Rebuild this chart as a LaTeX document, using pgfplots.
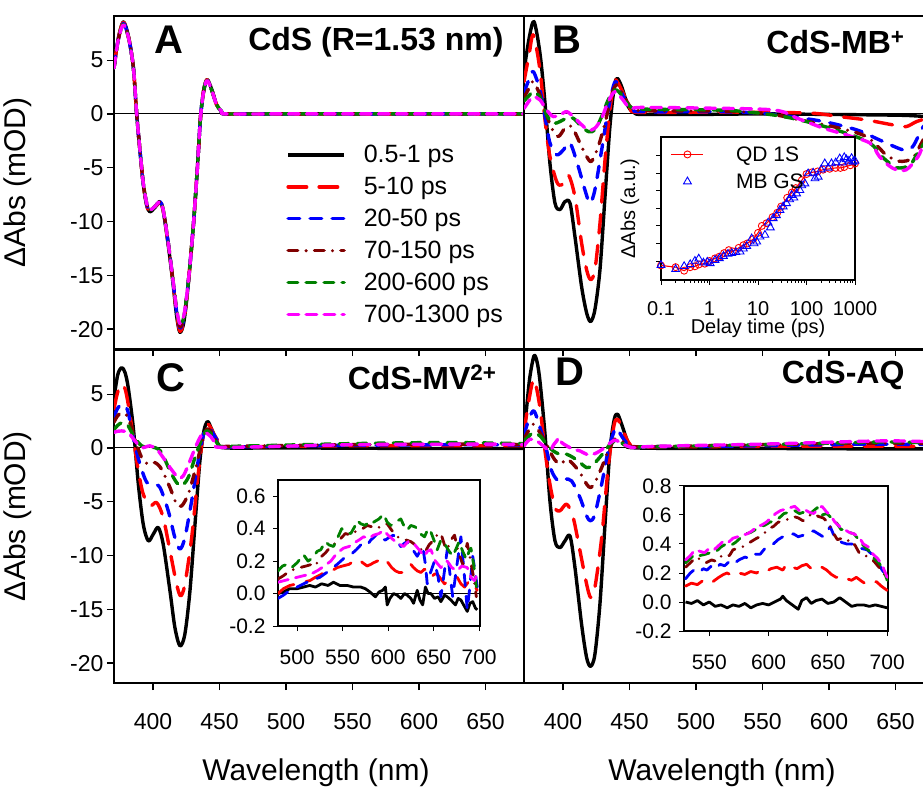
\documentclass[border=0pt]{standalone}
\usepackage{fontspec}
\setmainfont{Liberation Sans}
\usepackage{pgfplots}
\pgfplotsset{compat=1.18}
\definecolor{brn}{RGB}{128,0,0}
\definecolor{grn}{RGB}{0,128,0}
\definecolor{mag}{RGB}{255,0,255}
\definecolor{rd}{RGB}{255,0,0}
\definecolor{bl}{RGB}{0,0,255}
\newcommand{\fs}[1]{\fontsize{#1}{#1}\selectfont}

\pgfplotsset{
  c0/.style={black, line width=3.4pt, solid, line join=round},
  c1/.style={rd, line width=3.4pt, line cap=round, line join=round, dash pattern=on 18.6pt off 12.4pt},
  c2/.style={bl, line width=3.4pt, line cap=round, line join=round, dash pattern=on 11.6pt off 10.4pt},
  c3/.style={brn, line width=3.4pt, line cap=round, line join=round, dash pattern=on 9.6pt off 8.4pt on 0pt off 8.4pt},
  c4/.style={grn, line width=3.4pt, line cap=round, line join=round, dash pattern=on 9.6pt off 8.4pt},
  c5/.style={mag, line width=3.4pt, line cap=round, line join=round, dash pattern=on 10.6pt off 7.4pt},
  mainax/.style={scale only axis, width=410pt, height=333pt,
    xmin=370.7, xmax=679, ymin=-21.85, ymax=9.1,
    axis line style={line width=1.6pt}, major tick length=7pt,
    every tick/.style={black, line width=1.2pt}, tick align=outside,
    xtick={400,450,500,550,600,650}, xticklabels={}, xtick pos=bottom,
    ytick pos=left, ytick=\empty, tick label style={font=\fs{23}}},
  leftax/.style={ytick={-20,-15,-10,-5,0,5}, yticklabels={-20,-15,-10,-5,0,5}},
  botax/.style={xticklabels={400,450,500,550,600,650}, xticklabel style={yshift=-20pt}},
  inax/.style={scale only axis, axis background/.style={fill=white},
    axis line style={line width=1.1pt}, major tick length=5pt,
    every tick/.style={black, line width=1pt}, tick align=outside,
    xtick pos=bottom, ytick pos=left, tick label style={font=\fs{21}}},
}

\begin{document}
\begin{tikzpicture}[x=1pt,y=1pt]

% ---------- A ----------
\begin{axis}[mainax, leftax, at={(114pt,439pt)}, anchor=south west,
  legend style={at={(0.42,0.618)}, anchor=north west, draw=none, fill=none,
    font=\fs{25}, inner sep=0pt, row sep=9pt,
    /tikz/every odd column/.append style={column sep=16pt}},
  legend cell align=left,
  legend image code/.code={\draw[#1] (0pt,0pt) -- (56pt,0pt);}]
\addplot[black, line width=1pt, forget plot] coordinates {(370.7,0)(679,0)};
\addplot[c0, smooth] coordinates {(370.7,4.3)(373.9,7.0)(377.7,8.55)(381.4,7.3)(385.2,4.4)(387.7,0.06)(390.2,-3.4)(392.7,-6.5)(395.3,-8.5)(397.7,-9.1)(401.5,-8.7)(405.3,-8.2)(407.7,-9.0)(411.5,-12.2)(415.3,-16.0)(417.8,-18.8)(420.3,-20.3)(423.3,-19.3)(426.5,-15.9)(430.3,-10.5)(433.3,-5.2)(435.8,-0.25)(438.3,2.3)(440.8,3.2)(444.1,2.3)(447.9,0.84)(451.7,0.22)(455.4,0)(500,0)(600,0)(679,0)};
\addlegendentry{0.5-1 ps}
\addplot[c1, smooth] coordinates {(370.7,4.3)(373.9,7.0)(377.7,8.5)(381.4,7.3)(385.2,4.4)(387.7,0.06)(390.2,-3.4)(392.7,-6.5)(395.3,-8.5)(397.7,-9.1)(401.5,-8.7)(405.3,-8.2)(407.7,-9.0)(411.5,-12.1)(415.3,-15.9)(417.8,-18.6)(420.3,-20.2)(423.3,-19.2)(426.5,-15.8)(430.3,-10.5)(433.3,-5.2)(435.8,-0.25)(438.3,2.3)(440.8,3.2)(444.1,2.3)(447.9,0.84)(451.7,0.22)(455.4,0)(500,0)(600,0)(679,0)};
\addlegendentry{5-10 ps}
\addplot[c2, smooth] coordinates {(370.7,4.3)(373.9,6.9)(377.7,8.4)(381.4,7.2)(385.2,4.4)(387.7,0.06)(390.2,-3.4)(392.7,-6.5)(395.3,-8.4)(397.7,-9.0)(401.5,-8.6)(405.3,-8.15)(407.7,-8.95)(411.5,-12.0)(415.3,-15.8)(417.8,-18.4)(420.3,-19.9)(423.3,-19.0)(426.5,-15.7)(430.3,-10.5)(433.3,-5.2)(435.8,-0.25)(438.3,2.25)(440.8,3.1)(444.1,2.25)(447.9,0.84)(451.7,0.22)(455.4,0)(500,0)(600,0)(679,0)};
\addlegendentry{20-50 ps}
\addplot[c3, smooth] coordinates {(370.7,4.3)(373.9,6.9)(377.7,8.35)(381.4,7.2)(385.2,4.4)(387.7,0.06)(390.2,-3.35)(392.7,-6.45)(395.3,-8.35)(397.7,-8.95)(401.5,-8.6)(405.3,-8.15)(407.7,-8.9)(411.5,-12.0)(415.3,-15.7)(417.8,-18.3)(420.3,-19.8)(423.3,-18.9)(426.5,-15.7)(430.3,-10.5)(433.3,-5.2)(435.8,-0.25)(438.3,2.23)(440.8,3.1)(444.1,2.23)(447.9,0.84)(451.7,0.22)(455.4,0)(500,0)(600,0)(679,0)};
\addlegendentry{70-150 ps}
\addplot[c4, smooth] coordinates {(370.7,4.25)(373.9,6.9)(377.7,8.3)(381.4,7.2)(385.2,4.4)(387.7,0.06)(390.2,-3.35)(392.7,-6.44)(395.3,-8.3)(397.7,-8.92)(401.5,-8.6)(405.3,-8.15)(407.7,-8.92)(411.5,-12.0)(415.3,-15.7)(417.8,-18.2)(420.3,-19.7)(423.3,-18.8)(426.5,-15.7)(430.3,-10.5)(433.3,-5.2)(435.8,-0.25)(438.3,2.23)(440.8,3.1)(444.1,2.23)(447.9,0.84)(451.7,0.22)(455.4,0)(500,0)(600,0)(679,0)};
\addlegendentry{200-600 ps}
\addplot[c5, smooth] coordinates {(370.7,4.25)(373.9,6.88)(377.7,8.27)(381.4,7.19)(385.2,4.4)(387.7,0.06)(390.2,-3.35)(392.7,-6.44)(395.3,-8.3)(397.7,-8.92)(401.5,-8.6)(405.3,-8.15)(407.7,-8.92)(411.5,-12.0)(415.3,-15.7)(417.8,-18.2)(420.3,-19.5)(423.3,-18.7)(426.5,-15.7)(430.3,-10.5)(433.3,-5.2)(435.8,-0.25)(438.3,2.23)(440.8,3.1)(444.1,2.23)(447.9,0.84)(451.7,0.22)(455.4,0)(500,0)(600,0)(679,0)};
\addlegendentry{700-1300 ps}
\end{axis}

% ---------- B ----------
\begin{axis}[mainax, at={(524pt,439pt)}, anchor=south west]
\addplot[black, line width=1pt] coordinates {(370.7,0)(679,0)};
\addplot[c0, smooth] coordinates {(370.7,4.0)(374.5,7.0)(378.2,8.58)(382.7,5.64)(386.5,1.0)(390.2,-4.6)(394,-8.3)(397.7,-8.9)(401.5,-8.15)(405.3,-8.3)(409,-11.4)(414,-16.05)(417.8,-18.5)(420.8,-19.3)(424,-18.2)(427.8,-14.5)(431.6,-7.7)(435.3,-1.18)(438.6,2.54)(440.8,3.3)(444.1,2.54)(449.1,0.68)(454.1,0.06)(460,-0.05)(500,-0.05)(550,0)(600,-0.05)(640,-0.1)(660,-0.15)(679,-0.3)};
\addplot[c1, smooth] coordinates {(370.7,3.0)(374.5,5.5)(377.7,7.34)(382.7,4.1)(386.5,-0.56)(390.2,-3.97)(395.3,-6.3)(399,-6.6)(404,-5.67)(409,-7.7)(414,-12.0)(417.8,-14.5)(420.8,-15.4)(424,-14.5)(427.8,-10.2)(431.6,-4.3)(435.3,0.37)(438.6,3.0)(440.8,3.0)(445.3,1.92)(450.4,0.53)(456,0.15)(500,0.15)(550,0.15)(588,0.06)(608,-0.25)(628,-0.56)(648,-1.02)(658,-1.18)(666,-0.71)(679,-0.2)};
\addplot[c2, smooth] coordinates {(370.7,2.0)(374.5,3.2)(377.7,3.93)(382.7,2.2)(386.5,-0.25)(390.2,-2.7)(395.3,-3.8)(400.3,-3.35)(405.3,-2.7)(411.5,-4.9)(416.5,-7.06)(420.3,-8.3)(424,-7.06)(429.1,-3.35)(434,0.37)(438.6,2.85)(441.6,2.7)(446.6,1.3)(452.9,0.37)(460,0.2)(520,0.2)(550,0.05)(571,-0.25)(596,-0.71)(621,-1.49)(638,-2.42)(656,-3.35)(663,-3.04)(671,-1.18)(679,-0.5)};
\addplot[c3, smooth] coordinates {(370.7,1.5)(374.5,2.4)(377.7,3.0)(382.7,1.77)(387.2,0.06)(391.5,-1.33)(396.5,-2.1)(401.5,-1.33)(406.5,-1.18)(412.8,-2.72)(417.8,-3.97)(421.5,-4.4)(426.5,-3.04)(431.6,-0.87)(436.6,1.77)(440.4,2.7)(445.3,1.77)(451.6,0.53)(460,0.3)(520,0.25)(555,0.0)(578,-0.56)(603,-1.18)(628,-2.1)(643,-3.8)(653,-4.4)(663,-4.1)(671,-2.4)(679,-1.0)};
\addplot[c4, smooth] coordinates {(370.7,1.2)(374.5,1.7)(377.7,2.07)(382.7,1.55)(387.7,-0.09)(392.7,-0.87)(397.7,-0.71)(402.8,-0.4)(407.7,-0.4)(412.8,-1.02)(419,-1.64)(424,-1.49)(429.1,-0.25)(434,1.3)(439.1,2.23)(444.1,1.77)(450.4,0.68)(460,0.45)(520,0.35)(545,0.1)(566,-0.25)(588,-0.87)(613,-1.8)(631,-2.72)(641,-4.1)(651,-5.0)(661,-4.74)(668,-3.35)(679,-1.5)};
\addplot[c5, smooth] coordinates {(370.7,0.5)(374.5,1.2)(377.7,1.6)(382.7,1.3)(387.7,0.37)(392.7,-0.25)(397.7,-0.09)(402.8,0.21)(407.7,-0.25)(412.8,-0.87)(419,-1.49)(424,-1.33)(429.1,-0.4)(434,1.14)(439.1,2.07)(444.1,1.46)(450.4,0.53)(458,0.6)(500,0.55)(558,0.37)(576,-0.4)(596,-1.33)(613,-1.95)(631,-2.72)(638,-3.97)(648,-5.05)(658,-5.2)(667,-3.97)(671,-2.9)(679,-1.5)};
\end{axis}

% ---------- C ----------
\begin{axis}[mainax, leftax, botax, at={(114pt,105pt)}, anchor=south west]
\addplot[black, line width=1pt] coordinates {(370.7,0)(679,0)};
\addplot[c0, smooth] coordinates {(370.7,4.6)(373.5,6.8)(376.5,7.46)(379,7.0)(381.4,5.6)(385.2,1.9)(389,-3.37)(392.7,-7.1)(396.5,-8.64)(400.3,-8.0)(404,-7.4)(407.7,-8.95)(412.8,-13.3)(416.5,-16.7)(420.3,-18.4)(424,-17.3)(427.8,-13.3)(431.6,-7.1)(435.3,-1.2)(438.3,1.58)(441.1,2.45)(444.1,1.74)(449.1,0.34)(455,0)(500,0)(600,-0.05)(679,-0.05)};
\addplot[c1, smooth] coordinates {(370.7,3.6)(373.5,5.2)(376.5,5.92)(379,5.5)(381.4,4.06)(385.2,0.96)(389,-2.14)(392.7,-4.3)(397.7,-5.4)(402.8,-5.08)(407.7,-6.48)(412.8,-9.57)(417.8,-12.67)(420.8,-13.75)(424,-12.67)(429.1,-8.34)(434,-2.44)(438.3,1.58)(441.6,2.2)(446.6,1.12)(451.7,0.19)(460,0.1)(550,0.2)(650,0.2)(679,0.2)};
\addplot[c2, smooth] coordinates {(370.7,2.9)(373.5,3.7)(376.5,4.06)(379,3.9)(381.4,3.28)(385.7,0.65)(390.2,-1.5)(395.3,-3.2)(400.3,-3.37)(405.3,-3.69)(411.5,-5.85)(416.5,-8.34)(420.3,-9.4)(424,-8.34)(429.1,-4.93)(434,-1.2)(438.8,1.58)(442.9,1.74)(447.9,0.81)(452.9,0.19)(460,0.1)(550,0.25)(650,0.3)(679,0.25)};
\addplot[c3, smooth] coordinates {(370.7,2.4)(373.5,3.0)(376.5,3.28)(379,3.1)(381.4,2.82)(386.5,0.81)(391.5,-0.9)(396.5,-1.52)(401.5,-1.37)(406.5,-1.98)(412.8,-3.69)(417.8,-5.23)(421.6,-5.39)(426.5,-4.3)(431.6,-2.14)(436.6,0.34)(440.4,1.74)(445.3,1.27)(450,0.19)(460,0.15)(550,0.3)(650,0.35)(679,0.3)};
\addplot[c4, smooth] coordinates {(370.7,1.7)(373.5,2.1)(376.5,2.35)(379,2.3)(381.4,2.04)(386.5,0.9)(391.5,0.19)(396.5,0.03)(401.5,0.03)(406.5,-0.43)(412.8,-2.14)(417.8,-3.22)(421.6,-3.53)(426.5,-2.76)(431.6,-0.9)(436.6,0.81)(440.4,1.58)(445.3,1.12)(450,0.19)(460,0.15)(550,0.4)(620,0.5)(679,0.4)};
\addplot[c5, smooth] coordinates {(370.7,1.45)(373.5,1.55)(376.5,1.58)(381.4,1.42)(386.5,0.65)(391.5,0.03)(397.7,0.19)(402.8,-0.12)(407.7,-0.9)(412.8,-1.83)(419,-2.76)(422.8,-2.6)(427.8,-1.21)(432.9,0.34)(437.9,1.42)(442.9,1.12)(447.9,0.34)(455,0.05)(550,0.3)(650,0.35)(679,0.3)};
\end{axis}

% ---------- D ----------
\begin{axis}[mainax, botax, at={(524pt,105pt)}, anchor=south west]
\addplot[black, line width=1pt] coordinates {(370.7,0)(679,0)};
\addplot[c0, smooth] coordinates {(370.7,1.2)(372.5,3.5)(375,6.5)(378.2,8.55)(380.5,8.0)(382.7,6.2)(386.5,1.27)(390.2,-4.93)(394,-8.64)(397.7,-9.27)(401.5,-8.64)(405.3,-8.18)(409,-11.1)(414,-16.4)(417.8,-19.5)(420.8,-20.3)(424,-19.2)(427.8,-14.5)(431.6,-7.1)(435.3,-0.28)(438.6,2.67)(441.1,3.13)(444.1,2.2)(449.1,0.5)(455,0)(550,-0.05)(650,-0.1)(679,-0.1)};
\addplot[c1, smooth] coordinates {(370.7,1.5)(374.5,4.5)(378.2,6.38)(382.7,3.75)(386.5,-0.28)(390.2,-3.37)(394,-5.55)(397.7,-5.85)(402.8,-5.23)(407.7,-6.48)(412.8,-9.57)(417.8,-12.67)(420.8,-13.9)(424,-12.98)(429.1,-8.34)(434,-1.83)(438.3,2.04)(441.1,2.67)(445.3,1.58)(450.4,0.34)(460,0.1)(550,0.15)(650,0.15)(679,0.1)};
\addplot[c2, smooth] coordinates {(370.7,1.2)(374.5,2.7)(378.2,3.44)(382.7,1.89)(387.2,0.03)(391.5,-2.14)(396.5,-3.07)(401.5,-2.9)(406.5,-3.07)(412.8,-4.62)(417.8,-6.32)(420.8,-6.78)(424,-6.16)(429.1,-3.37)(434,-0.28)(439.1,1.74)(441.6,1.58)(446.6,0.65)(452,0.06)(460,0.1)(550,0.2)(630,0.35)(679,0.3)};
\addplot[c3, smooth] coordinates {(370.7,0.8)(374.5,1.7)(377.7,2.2)(382.7,1.42)(387.7,0.34)(392.7,-0.9)(397.7,-1.52)(402.8,-1.05)(407.7,-1.52)(412.8,-2.3)(417.8,-3.37)(420.8,-3.69)(424,-3.22)(429.1,-1.83)(434,-0.28)(439.1,0.81)(444.1,0.65)(450.4,0.19)(460,0.1)(550,0.3)(630,0.45)(679,0.4)};
\addplot[c4, smooth] coordinates {(370.7,0.65)(374.5,1.1)(377.7,1.42)(382.7,1.12)(387.7,0.34)(392.7,-0.28)(397.7,-0.59)(402.8,-0.59)(407.7,-0.9)(412.8,-1.37)(417.8,-1.83)(421.6,-1.67)(426.5,-1.05)(431.6,-0.28)(436.6,0.5)(441.6,0.65)(447.9,0.19)(460,0.1)(550,0.3)(640,0.55)(679,0.45)};
\addplot[c5, smooth] coordinates {(370.7,0.19)(375.2,0.81)(380.2,0.65)(385.2,0.19)(390.2,-0.28)(393,0.3)(395.3,0.65)(397,0.96)(399,0.5)(402.8,0.19)(407.7,-0.12)(412.8,-0.28)(417.8,-0.59)(422.8,-0.59)(427.8,-0.28)(432.9,0.19)(439.1,0.72)(445.3,0.34)(452.9,0.03)(470,0.15)(550,0.35)(640,0.65)(679,0.55)};
\end{axis}

% ---------- inset B ----------
\begin{axis}[inax, at={(661pt,508pt)}, anchor=south west, width=194pt, height=143pt,
  xmode=log, xmin=0.1, xmax=1000, ymin=-1.08, ymax=7.06,
  xtick={0.1,1,10,100,1000}, xticklabels={0.1,1,10,100,1000},
  ytick={0,1,2,3,4,5,6}, yticklabels={},
  tick label style={font=\fs{20}}, xticklabel style={yshift=-13pt, text depth=0pt},
  xlabel={Delay time (ps)}, ylabel={ΔAbs (a.u.)},
  label style={font=\fs{20}},
  xlabel style={at={(axis description cs:0.5,0)}, anchor=north, yshift=-38pt, inner sep=1pt},
  ylabel style={at={(axis description cs:-0.16,0.5)}, anchor=center},
  legend style={at={(0.05,0.95)}, anchor=north west, draw=none, fill=none,
    font=\fs{21}, inner sep=0pt, row sep=7pt,
    /tikz/every odd column/.append style={column sep=30pt}},
  legend cell align=left,
  legend image code/.code={\draw[mark repeat=2,mark phase=2,#1] plot coordinates {(0pt,0pt)(16pt,0pt)(32pt,0pt)};}]
\addplot[rd, line width=1.1pt, mark=o, mark size=3.5pt, mark options={solid, line width=0.9pt}] coordinates {(0.1,-0.25)(0.2,-0.35)(0.3,-0.55)(0.4,-0.35)(0.5,-0.3)(0.6,-0.2)(0.8,-0.15)(1,0.0)(1.3,0.15)(1.6,0.25)(2,0.45)(2.5,0.62)(3,0.55)(4,0.75)(5,0.9)(6,1.0)(8,1.25)(10,1.6)(12,2.0)(15,2.15)(20,2.5)(25,2.75)(30,3.1)(40,3.6)(50,3.9)(60,4.15)(80,4.6)(100,4.95)(130,5.05)(170,5.1)(220,5.2)(300,5.25)(400,5.3)(500,5.3)(600,5.35)(800,5.45)(1000,5.55)};
\addlegendentry{QD 1S}
\addplot[bl, only marks, mark=triangle, mark size=4.5pt, mark options={line width=0.9pt}] coordinates {(0.1,-0.23)(0.2,-0.47)(0.3,-0.3)(0.4,-0.19)(0.5,0.0)(0.6,0.13)(0.75,-0.1)(0.9,-0.05)(1.03,-0.13)(1.3,0.05)(1.6,0.15)(1.94,0.28)(2.4,0.4)(2.88,0.44)(3.5,0.5)(4.27,0.53)(5,0.7)(5.85,0.85)(7.4,1.28)(8.3,1.0)(9.4,1.1)(11,1.38)(13.9,1.48)(16.2,2.18)(18,1.9)(20.6,2.43)(24,2.6)(28.3,2.9)(33,3.1)(38.8,3.28)(45,3.5)(49.2,3.75)(55,3.6)(62.4,3.84)(73,4.03)(80,4.3)(92.5,4.41)(108,4.98)(137,5.02)(150,4.7)(174,4.79)(200,5.2)(238,5.55)(280,5.3)(327,5.55)(400,5.6)(484,5.83)(550,5.6)(600,5.9)(664,5.78)(750,5.7)(850,5.85)(912,5.64)(1000,5.7)};
\addlegendentry{MB GS}
\end{axis}

% ---------- inset C ----------
\begin{axis}[inax, at={(278pt,162pt)}, anchor=south west, width=202pt, height=146pt,
  xmin=479, xmax=701, ymin=-0.2, ymax=0.7,
  xtick={500,550,600,650,700}, xticklabels={500,550,600,650,700},
  ytick={-0.2,0,0.2,0.4,0.6}, yticklabels={-0.2,0.0,0.2,0.4,0.6},
  xticklabel style={yshift=-15pt}, yticklabel style={xshift=-4pt}]
\addplot[black, line width=0.8pt] coordinates {(479,0)(701,0)};
\addplot[c0, line width=2.8pt] coordinates {(479,0.0)(485,0.01)(492,0.03)(500,0.03)(507,0.04)(514,0.05)(520,0.04)(527,0.06)(534,0.05)(540,0.07)(547,0.05)(555,0.05)(562,0.04)(570,0.04)(575,0.03)(580,0.01)(586,-0.02)(590,0.01)(594,0.02)(597,0.04)(599,-0.07)(602,-0.03)(606,0.0)(610,-0.01)(614,-0.03)(618,0.0)(621,-0.01)(625,-0.03)(628,-0.06)(632,0.02)(635,-0.04)(638,-0.07)(641,0.04)(644,0.0)(647,0.0)(651,-0.03)(655,-0.02)(658,-0.05)(662,-0.01)(665,-0.02)(669,-0.04)(674,-0.07)(677,-0.03)(680,-0.04)(684,-0.08)(687,-0.11)(690,-0.06)(693,-0.05)(696,-0.09)(698,-0.1)};
\addplot[c1, line width=2.8pt] coordinates {(479,0.0)(485,0.03)(492,0.05)(500,0.06)(507,0.07)(514,0.08)(520,0.1)(527,0.12)(533,0.14)(538,0.14)(544,0.16)(550,0.17)(557,0.18)(562,0.2)(568,0.21)(572,0.19)(577,0.17)(581,0.18)(584,0.19)(588,0.2)(594,0.22)(600,0.19)(604,0.16)(608,0.14)(612,0.13)(616,0.13)(620,0.16)(625,0.18)(628,0.16)(632,0.14)(636,0.13)(640,0.15)(644,0.13)(647,0.1)(651,0.12)(654,0.12)(658,0.09)(662,0.06)(666,0.08)(671,0.09)(676,0.1)(680,0.06)(684,0.04)(688,0.07)(691,0.08)(695,0.05)(698,0.02)};
\addplot[c2, line width=2.8pt] coordinates {(479,-0.03)(485,-0.01)(492,0.02)(500,0.04)(507,0.06)(515,0.08)(525,0.1)(535,0.14)(544,0.18)(552,0.22)(559,0.24)(565,0.27)(570,0.3)(576,0.29)(581,0.33)(585,0.35)(588,0.37)(592,0.34)(597,0.33)(602,0.35)(606,0.36)(610,0.32)(614,0.29)(618,0.31)(621,0.32)(626,0.28)(632,0.23)(635,0.26)(638,0.29)(641,0.18)(643,0.06)(646,0.12)(651,0.2)(655,0.1)(658,-0.02)(661,0.1)(665,0.27)(668,0.12)(671,-0.02)(675,0.15)(680,0.35)(684,0.1)(687,-0.1)(690,0.05)(693,0.23)(696,0.12)(698,0.04)};
\addplot[c3, line width=2.8pt] coordinates {(479,0.09)(485,0.11)(492,0.14)(497,0.15)(503,0.16)(510,0.17)(516,0.18)(520,0.17)(525,0.22)(531,0.25)(537,0.29)(542,0.31)(548,0.34)(553,0.37)(559,0.36)(566,0.39)(572,0.4)(577,0.42)(583,0.41)(588,0.4)(593,0.42)(599,0.43)(604,0.39)(610,0.35)(616,0.34)(620,0.33)(625,0.32)(630,0.3)(635,0.28)(640,0.25)(645,0.3)(650,0.33)(655,0.37)(658,0.37)(662,0.3)(665,0.27)(669,0.33)(673,0.36)(677,0.26)(682,0.18)(685,0.26)(687,0.31)(690,0.22)(694,0.1)(697,-0.02)};
\addplot[c4, line width=2.8pt] coordinates {(479,0.14)(484,0.17)(489,0.18)(494,0.16)(500,0.19)(507,0.24)(512,0.2)(517,0.22)(522,0.26)(526,0.27)(531,0.32)(535,0.3)(540,0.29)(545,0.35)(549,0.4)(554,0.38)(559,0.37)(563,0.41)(566,0.45)(570,0.43)(575,0.42)(580,0.45)(584,0.44)(590,0.46)(595,0.49)(599,0.44)(603,0.42)(608,0.44)(614,0.46)(618,0.41)(621,0.39)(625,0.42)(630,0.41)(635,0.37)(640,0.35)(644,0.4)(647,0.38)(651,0.32)(654,0.27)(658,0.33)(662,0.31)(666,0.27)(671,0.23)(675,0.28)(678,0.32)(682,0.26)(686,0.21)(689,0.26)(691,0.28)(694,0.18)(698,0.0)};
\addplot[c5, line width=2.8pt] coordinates {(479,0.07)(486,0.08)(493,0.09)(500,0.1)(507,0.11)(515,0.12)(522,0.14)(530,0.17)(537,0.2)(544,0.25)(551,0.28)(557,0.29)(562,0.31)(568,0.33)(573,0.35)(579,0.34)(584,0.36)(590,0.37)(595,0.39)(600,0.36)(606,0.33)(611,0.31)(617,0.29)(622,0.32)(628,0.31)(634,0.27)(640,0.23)(643,0.26)(647,0.27)(652,0.2)(658,0.16)(662,0.19)(665,0.2)(670,0.16)(676,0.14)(681,0.17)(687,0.16)(691,0.1)(695,0.08)(698,0.12)};
\end{axis}

% ---------- inset D ----------
\begin{axis}[inax, at={(684pt,157pt)}, anchor=south west, width=204pt, height=145pt,
  xmin=528.7, xmax=700.7, ymin=-0.2, ymax=0.8,
  xtick={550,600,650,700}, xticklabels={550,600,650,700},
  ytick={-0.2,0,0.2,0.4,0.6,0.8}, yticklabels={-0.2,0.0,0.2,0.4,0.6,0.8},
  xticklabel style={yshift=-15pt}, yticklabel style={xshift=-4pt}]
\addplot[c0, line width=2.8pt] coordinates {(530,0.0)(535,-0.01)(540,0.01)(545,-0.02)(550,0.0)(555,-0.03)(560,-0.02)(565,-0.04)(570,-0.02)(575,-0.03)(580,-0.01)(585,-0.04)(590,-0.02)(595,-0.01)(600,-0.02)(605,0.0)(610,0.02)(612,0.04)(615,0.01)(620,-0.02)(625,-0.05)(628,0.01)(632,0.03)(636,-0.01)(640,0.01)(645,0.02)(650,-0.01)(655,0.0)(660,0.03)(665,0.0)(670,-0.03)(675,-0.02)(680,-0.02)(685,-0.03)(690,-0.02)(695,-0.03)(700,-0.04)};
\addplot[c1, line width=2.8pt] coordinates {(530,0.11)(535,0.13)(540,0.12)(545,0.15)(548,0.16)(553,0.14)(558,0.17)(562,0.19)(565,0.2)(570,0.18)(575,0.2)(580,0.19)(585,0.21)(590,0.2)(593,0.22)(598,0.21)(602,0.23)(607,0.24)(612,0.22)(615,0.26)(620,0.24)(624,0.23)(628,0.25)(632,0.26)(636,0.23)(641,0.22)(645,0.24)(649,0.22)(653,0.19)(657,0.17)(662,0.18)(666,0.16)(670,0.15)(674,0.17)(679,0.14)(683,0.12)(687,0.13)(691,0.14)(695,0.11)(700,0.08)};
\addplot[c2, line width=2.8pt] coordinates {(530,0.16)(534,0.2)(537,0.22)(541,0.2)(545,0.23)(548,0.22)(552,0.25)(556,0.23)(559,0.26)(563,0.25)(567,0.28)(570,0.26)(575,0.29)(580,0.31)(584,0.3)(588,0.33)(593,0.33)(597,0.37)(601,0.38)(604,0.4)(608,0.43)(612,0.45)(616,0.46)(621,0.47)(625,0.45)(629,0.46)(633,0.48)(638,0.49)(642,0.47)(646,0.45)(649,0.48)(652,0.52)(655,0.46)(658,0.43)(662,0.41)(666,0.4)(670,0.4)(674,0.39)(678,0.37)(683,0.36)(687,0.33)(691,0.29)(695,0.23)(700,0.17)};
\addplot[c3, line width=2.8pt] coordinates {(530,0.24)(534,0.27)(539,0.31)(543,0.29)(547,0.27)(552,0.29)(556,0.28)(559,0.31)(563,0.33)(567,0.32)(570,0.36)(574,0.37)(578,0.38)(582,0.4)(586,0.42)(590,0.44)(593,0.45)(597,0.48)(601,0.51)(604,0.52)(608,0.55)(612,0.56)(616,0.57)(621,0.59)(625,0.58)(629,0.56)(633,0.59)(638,0.61)(642,0.59)(646,0.58)(650,0.55)(655,0.47)(658,0.43)(662,0.44)(666,0.42)(669,0.43)(673,0.39)(677,0.33)(681,0.32)(685,0.31)(689,0.28)(693,0.24)(697,0.2)(700,0.15)};
\addplot[c4, line width=2.8pt] coordinates {(530,0.27)(534,0.3)(538,0.33)(542,0.32)(547,0.33)(551,0.34)(556,0.35)(560,0.38)(564,0.4)(568,0.39)(572,0.41)(576,0.44)(581,0.47)(585,0.48)(589,0.5)(593,0.52)(597,0.53)(601,0.55)(605,0.56)(609,0.58)(613,0.61)(618,0.62)(622,0.63)(626,0.61)(630,0.62)(634,0.6)(638,0.63)(641,0.65)(645,0.6)(649,0.61)(653,0.58)(657,0.55)(661,0.5)(665,0.5)(668,0.48)(672,0.47)(677,0.42)(681,0.38)(685,0.35)(689,0.3)(693,0.27)(697,0.22)(700,0.15)};
\addplot[c5, line width=2.8pt] coordinates {(530,0.29)(534,0.32)(538,0.36)(542,0.35)(546,0.34)(550,0.37)(554,0.36)(558,0.39)(562,0.42)(566,0.41)(570,0.44)(574,0.45)(578,0.46)(582,0.47)(586,0.49)(590,0.52)(594,0.53)(598,0.55)(602,0.58)(606,0.61)(610,0.63)(614,0.64)(618,0.65)(622,0.66)(626,0.63)(630,0.64)(634,0.62)(638,0.61)(642,0.64)(645,0.66)(649,0.62)(652,0.6)(656,0.55)(660,0.52)(664,0.5)(668,0.48)(672,0.47)(676,0.45)(680,0.4)(684,0.38)(688,0.33)(692,0.3)(696,0.25)(700,0.17)};
\end{axis}

% ---------- text ----------
\node[font=\bfseries\fs{40}] at (169,748) {A};
\node[font=\bfseries\fs{32}, anchor=east] at (507,746) {CdS (R=1.53 nm)};
\node[font=\bfseries\fs{40}] at (567,748) {B};
\node[font=\bfseries\fs{32}, anchor=east] at (908,746) {CdS-MB\textsuperscript{+}};
\node[font=\bfseries\fs{40}] at (171,410) {C};
\node[font=\bfseries\fs{32}, anchor=east] at (500,411) {CdS-MV\textsuperscript{2+}};
\node[font=\bfseries\fs{40}] at (570,416) {D};
\node[font=\bfseries\fs{32}, anchor=east] at (908,413) {CdS-AQ};
\node[rotate=90, font=\fs{30}] at (18,605.5) {ΔAbs (mOD)};
\node[rotate=90, font=\fs{30}] at (18,272) {ΔAbs (mOD)};
\node[font=\fs{30}] at (316,15) {Wavelength (nm)};
\node[font=\fs{30}] at (722,15) {Wavelength (nm)};

\pgfresetboundingbox
\useasboundingbox (0,0) rectangle (923,788);
\end{tikzpicture}
\end{document}
